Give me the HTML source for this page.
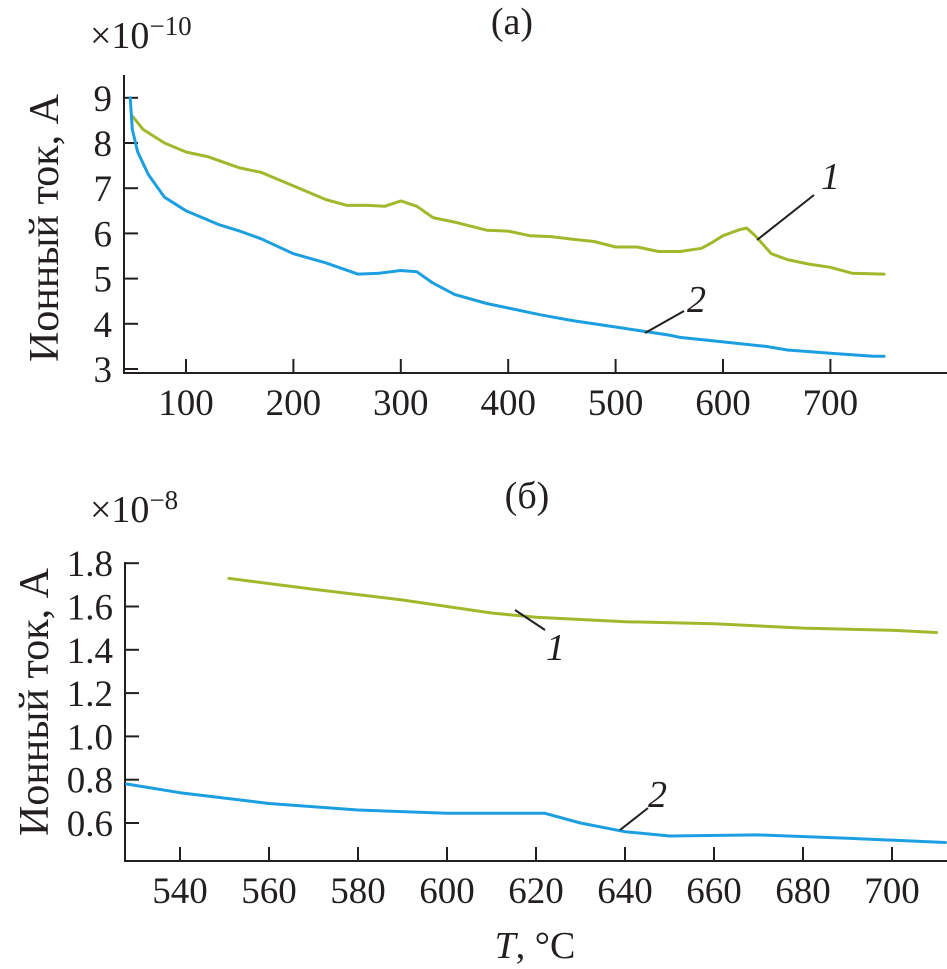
<!DOCTYPE html>
<html><head><meta charset="utf-8">
<style>
html,body{margin:0;padding:0;background:#fff;}
svg{display:block;}
text{font-family:"Liberation Serif",serif;fill:#231f20;}
</style></head>
<body>
<svg id="chart" width="947" height="969" viewBox="0 0 947 969" xmlns="http://www.w3.org/2000/svg">
<g id="pa"></g>
<g id="pb"></g>
</svg>
<script>
// Panel (a) data
const aXTicks = [100,200,300,400,500,600,700];
const aYTicks = [3,4,5,6,7,8,9];
const aS1T = [50,60,80,100,120,150,170,200,230,250,270,285,300,315,330,350,380,400,420,440,460,480,500,520,540,560,580,590,600,615,622,630,645,660,680,700,720,750];
const aS1V = [8.6,8.3,8.0,7.8,7.7,7.45,7.35,7.05,6.75,6.62,6.62,6.6,6.72,6.6,6.35,6.25,6.07,6.05,5.95,5.93,5.87,5.82,5.7,5.7,5.6,5.6,5.67,5.8,5.95,6.08,6.12,5.95,5.55,5.42,5.32,5.25,5.12,5.1];
const aS2T = [48,50,55,65,80,100,130,150,170,200,230,260,280,300,315,330,350,380,400,430,460,500,530,550,560,600,640,660,700,740,750];
const aS2V = [9.0,8.3,7.8,7.3,6.8,6.5,6.2,6.05,5.88,5.55,5.35,5.1,5.12,5.18,5.15,4.9,4.65,4.45,4.35,4.2,4.07,3.93,3.82,3.75,3.7,3.6,3.5,3.42,3.35,3.28,3.28];
// Panel (b) data
const bXTicks = [540,560,580,600,620,640,660,680,700];
const bYTicks = [0.6,0.8,1.0,1.2,1.4,1.6,1.8];
const bYLabels = ["0.6","0.8","1.0","1.2","1.4","1.6","1.8"];
const bS1T = [551,570,590,610,620,640,660,680,700,710];
const bS1V = [1.73,1.68,1.63,1.57,1.55,1.53,1.52,1.5,1.49,1.48];
const bS2T = [528,540,560,580,600,620,622,630,640,650,670,690,712];
const bS2V = [0.78,0.74,0.69,0.66,0.645,0.645,0.645,0.6,0.56,0.54,0.545,0.53,0.51];

const NS="http://www.w3.org/2000/svg";
const GREEN="#a2b82c", BLUE="#1c9fe0", INK="#231f20";
function mk(parent,tag,attrs,txt){const e=document.createElementNS(NS,tag);for(const k in attrs)e.setAttribute(k,attrs[k]);if(txt!==undefined)e.textContent=txt;parent.appendChild(e);return e;}

const axX=t=>186+(t-100)*1.074;
const ayY=v=>369-(v-3)*45.2;
const bxX=t=>180+(t-540)*4.45;
const byY=v=>823-(v-0.6)*216.5;

function path(pts){return pts.map((p,i)=>(i?'L':'M')+p[0].toFixed(1)+' '+p[1].toFixed(1)).join(' ');}

function panel(g,o){
  let e;
  e=mk(g,'path',{d:`M${o.ax} ${o.top} L${o.ax} ${o.bottom} L947 ${o.bottom}`,fill:'none',stroke:INK,'stroke-width':2});
  
  o.xt.forEach(t=>{const x=o.fx(t);
    e=mk(g,'line',{x1:x,x2:x,y1:o.bottom,y2:o.bottom-14,stroke:INK,'stroke-width':2});
    
    e=mk(g,'text',{x:x,y:o.bottom+42,'font-size':37,'text-anchor':'middle'},String(t));
    
  });
  o.yt.forEach((v,i)=>{const y=o.fy(v);
    e=mk(g,'line',{x1:o.ax,x2:o.ax+14,y1:y,y2:y,stroke:INK,'stroke-width':2});
    
    e=mk(g,'text',{x:o.ax-12,y:y+13,'font-size':37,'text-anchor':'end'},o.yl[i]);
    
  });
  e=mk(g,'text',{x:0,y:0,'font-size':42,'text-anchor':'middle',transform:`translate(${o.ylx},${o.yly}) rotate(-90)`},'Ионный ток, А');
  
  o.series.forEach(s=>{
    const pts=s.t.map((t,i)=>[o.fx(t),o.fy(s.v[i])]);
    e=mk(g,'path',{d:path(pts),fill:'none',stroke:s.c,'stroke-width':3,'stroke-linejoin':'round','stroke-linecap':'round'});
    
  });
}

const ga=document.getElementById('pa');
panel(ga,{ax:124,top:75,bottom:373,fx:axX,fy:ayY,xt:aXTicks,yt:aYTicks,yl:aYTicks.map(String),ylx:58,yly:228,
  series:[{t:aS1T,v:aS1V,c:GREEN,n:'series-1-line'},{t:aS2T,v:aS2V,c:BLUE,n:'series-2-line'}]});
const gb=document.getElementById('pb');
panel(gb,{ax:125,top:562,bottom:861,fx:bxX,fy:byY,xt:bXTicks,yt:bYTicks,yl:bYLabels,ylx:48,yly:702,
  series:[{t:bS1T,v:bS1V,c:GREEN,n:'series-1-line'},{t:bS2T,v:bS2V,c:BLUE,n:'series-2-line'}]});
</script>
<svg style="position:absolute;left:0;top:0" width="947" height="969" xmlns="http://www.w3.org/2000/svg">
<text x="512" y="34" font-size="38" text-anchor="middle" style="font-family:'Liberation Serif',serif" fill="#231f20">(а)</text>
<text x="90" y="48" font-size="38" style="font-family:'Liberation Serif',serif" fill="#231f20">×10<tspan dy="-13" font-size="27">−10</tspan></text>
<text x="527" y="508" font-size="38" text-anchor="middle" style="font-family:'Liberation Serif',serif" fill="#231f20">(б)</text>
<text x="90" y="522" font-size="38" style="font-family:'Liberation Serif',serif" fill="#231f20">×10<tspan dy="-13" font-size="27">−8</tspan></text>
<line x1="757" y1="240" x2="814" y2="195" stroke="#231f20" stroke-width="2"/>
<text x="821" y="189" font-size="38" font-style="italic" style="font-family:'Liberation Serif',serif" fill="#231f20">1</text>
<line x1="645" y1="333" x2="684" y2="311" stroke="#231f20" stroke-width="2"/>
<text x="687" y="312" font-size="38" font-style="italic" style="font-family:'Liberation Serif',serif" fill="#231f20">2</text>
<line x1="515" y1="610" x2="545" y2="630" stroke="#231f20" stroke-width="2"/>
<text x="546" y="660" font-size="38" font-style="italic" style="font-family:'Liberation Serif',serif" fill="#231f20">1</text>
<line x1="620" y1="830" x2="648" y2="808" stroke="#231f20" stroke-width="2"/>
<text x="648" y="807" font-size="38" font-style="italic" style="font-family:'Liberation Serif',serif" fill="#231f20">2</text>
<text x="535" y="958" font-size="38" text-anchor="middle" style="font-family:'Liberation Serif',serif" fill="#231f20"><tspan font-style="italic">T</tspan>, °C</text>
</svg>
</body></html>
